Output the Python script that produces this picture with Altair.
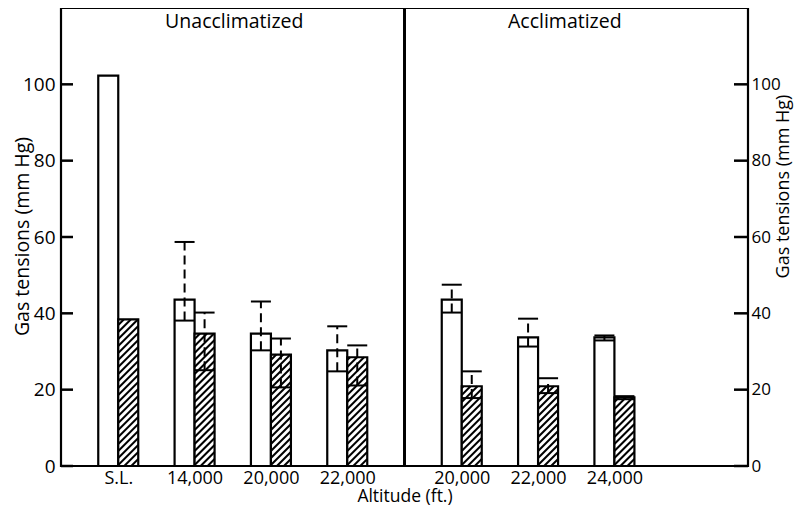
import altair as alt
import pandas as pd

# ---- data ----
altitudes = ["S.L.", "14,000", "20,000", "22,000", "20,000", "22,000", "24,000"]
condition = ["Unacclimatized"] * 4 + ["Acclimatized"] * 3
white_mean = [102.3, 43.6, 34.7, 30.3, 43.6, 33.7, 33.7]
white_low = [None, 38.1, 30.3, 24.8, 40.2, 31.3, 32.9]
white_high = [None, 58.7, 43.1, 36.6, 47.5, 38.6, 34.2]
hatch_mean = [38.4, 34.7, 29.2, 28.5, 20.9, 20.9, 18.0]
hatch_low = [None, 25.1, 20.6, 21.1, 17.8, 19.1, 17.5]
hatch_high = [None, 40.2, 33.4, 31.6, 24.8, 23.0, 18.3]
y_ticks = [0, 20, 40, 60, 80, 100]
panel_titles = ["Unacclimatized", "Acclimatized"]

# ---- layout ----
W, H = 687, 458
X_DOM = [0, 9]
Y_DOM = [0, 120]
PX_X = W / (X_DOM[1] - X_DOM[0])
PX_Y = H / (Y_DOM[1] - Y_DOM[0])
BAR_PX = 20
BW = BAR_PX / PX_X
FONT = "Open Sans"

centers = [0.75 + i + (0.5 if c == "Acclimatized" else 0.0) for i, c in enumerate(condition)]

rows = []
for i in range(len(altitudes)):
    c = centers[i]
    rows.append(dict(series="white", x0=c - BW, x1=c, xc=c - BW / 2,
                     mean=white_mean[i], low=white_low[i], high=white_high[i]))
    rows.append(dict(series="hatch", x0=c, x1=c + BW, xc=c + BW / 2,
                     mean=hatch_mean[i], low=hatch_low[i], high=hatch_high[i]))
bars = pd.DataFrame(rows)
white = bars[bars.series == "white"]
hatch = bars[bars.series == "hatch"]
err = bars.dropna(subset=["low"])

# hatch segments (/// at 45 degrees on screen), derived from the hatched bars
SP = 7.0
segs = []
for _, r in hatch.iterrows():
    hp = r["mean"] * PX_Y
    k = -BAR_PX
    while k < hp:
        a = max(0.0, -k)
        b = min(float(BAR_PX), hp - k)
        if b > a:
            segs.append(dict(hx=r.x0 + a / PX_X, hy=(a + k) / PX_Y,
                             hx2=r.x0 + b / PX_X, hy2=(b + k) / PX_Y))
        k += SP
segs = pd.DataFrame(segs)

ticks_df = pd.DataFrame({"v": y_ticks})
titles_df = pd.DataFrame({"t": panel_titles, "pos": [2.27, 6.6]})

xs = alt.Scale(domain=X_DOM, nice=False, zero=False)
ys = alt.Scale(domain=Y_DOM, nice=False, zero=False)


def X(f, axis=None):
    return alt.X(f, type="quantitative", scale=xs, axis=axis, title=None)


def Y(f, axis=None):
    return alt.Y(f, type="quantitative", scale=ys, axis=axis, title=None)


lookup = "[" + ",".join("'%s'" % a for a in altitudes) + "]"
cent = "[" + ",".join(repr(c) for c in centers) + "]"
x_axis = alt.Axis(orient="bottom", values=centers, ticks=False, domain=False, grid=False,
                  labelExpr=f"{lookup}[indexof({cent}, datum.value)]",
                  labelFont=FONT, labelFontSize=18, labelColor="black", labelPadding=3,
                  title="Altitude (ft.)", titleFont=FONT, titleFontSize=17.5,
                  titleFontWeight="normal", titleColor="black",
                  titleX=W / 2, titleY=35, titleBaseline="alphabetic", titleAlign="center")
left_axis = alt.Axis(orient="left", values=y_ticks, ticks=False, domain=False, grid=False,
                     labelFont=FONT, labelFontSize=19, labelColor="black", labelPadding=6,
                     title="Gas tensions (mm Hg)", titleFont=FONT, titleFontSize=19.5,
                     titleFontWeight="normal", titleColor="black",
                     titleX=-39, titleY=228, titleAngle=270, titleBaseline="middle",
                     titleAlign="center")
right_axis = alt.Axis(orient="right", values=y_ticks, ticks=False, domain=False, grid=False,
                      labelFont=FONT, labelFontSize=17, labelColor="black", labelPadding=3,
                      title="Gas tensions (mm Hg)", titleFont=FONT, titleFontSize=18,
                      titleFontWeight="normal", titleColor="black",
                      titleX=35, titleY=178, titleAngle=270, titleBaseline="middle",
                      titleAlign="center")

white_bars = alt.Chart(white).mark_rect(fill="white", stroke="black", strokeWidth=2.2).encode(
    x=alt.X("x0:Q", scale=xs, axis=x_axis), x2="x1:Q",
    y=alt.Y("mean:Q", scale=ys, axis=left_axis), y2=alt.Y2(datum=0))

hatch_fill = alt.Chart(hatch).mark_rect(fill="white", strokeWidth=0).encode(
    x=X("x0"), x2="x1", y=Y("mean", axis=right_axis), y2=alt.Y2(datum=0))

hatch_lines = alt.Chart(segs).mark_rule(color="black", strokeWidth=2).encode(
    x=X("hx"), y=Y("hy"), x2="hx2", y2="hy2")

hatch_outline = alt.Chart(hatch).mark_rect(fill="white", fillOpacity=0, stroke="black",
                                            strokeWidth=2.2).encode(
    x=X("x0"), x2="x1", y=Y("mean"), y2=alt.Y2(datum=0))

low_lines = alt.Chart(err).mark_rule(color="black", strokeWidth=2).encode(
    x=X("x0"), x2="x1", y=Y("low"))

dashes = alt.Chart(err).mark_rule(color="black", strokeWidth=2, strokeDash=[9, 5]).encode(
    x=X("xc"), y=Y("low"), y2="high")

caps = alt.Chart(err).mark_rule(color="black", strokeWidth=2).encode(
    x=X("x0"), x2="x1", y=Y("high"))

divider = alt.Chart(ticks_df).mark_rule(color="black", strokeWidth=2).encode(
    x=alt.XDatum(4.5, type="quantitative", scale=xs, axis=None),
    y=alt.value(0), y2=alt.value(H))

left_ticks = alt.Chart(ticks_df).mark_rule(color="black", strokeWidth=2.5).encode(
    y=Y("v"), x=alt.value(0), x2=alt.value(12))
right_ticks = alt.Chart(ticks_df).mark_rule(color="black", strokeWidth=2.5).encode(
    y=Y("v"), x=alt.value(W - 14), x2=alt.value(W))

titles = alt.Chart(titles_df).mark_text(font=FONT, fontSize=19.5, color="black",
                                        baseline="alphabetic", align="center").encode(
    x=X("pos"), y=alt.value(20), text="t:N")

chart = alt.layer(
    white_bars, hatch_fill, hatch_lines, hatch_outline, low_lines, dashes, caps,
    divider, left_ticks, right_ticks, titles
).resolve_axis(x="independent", y="independent").properties(
    width=W, height=H,
    background="white",
    autosize=alt.AutoSizeParams(type="none"),
    padding={"left": 53, "top": 0, "right": 46, "bottom": 39},
).configure_view(stroke="black", strokeWidth=2.2)

chart.save("out.html", embed_options={"renderer": "svg", "actions": False})
